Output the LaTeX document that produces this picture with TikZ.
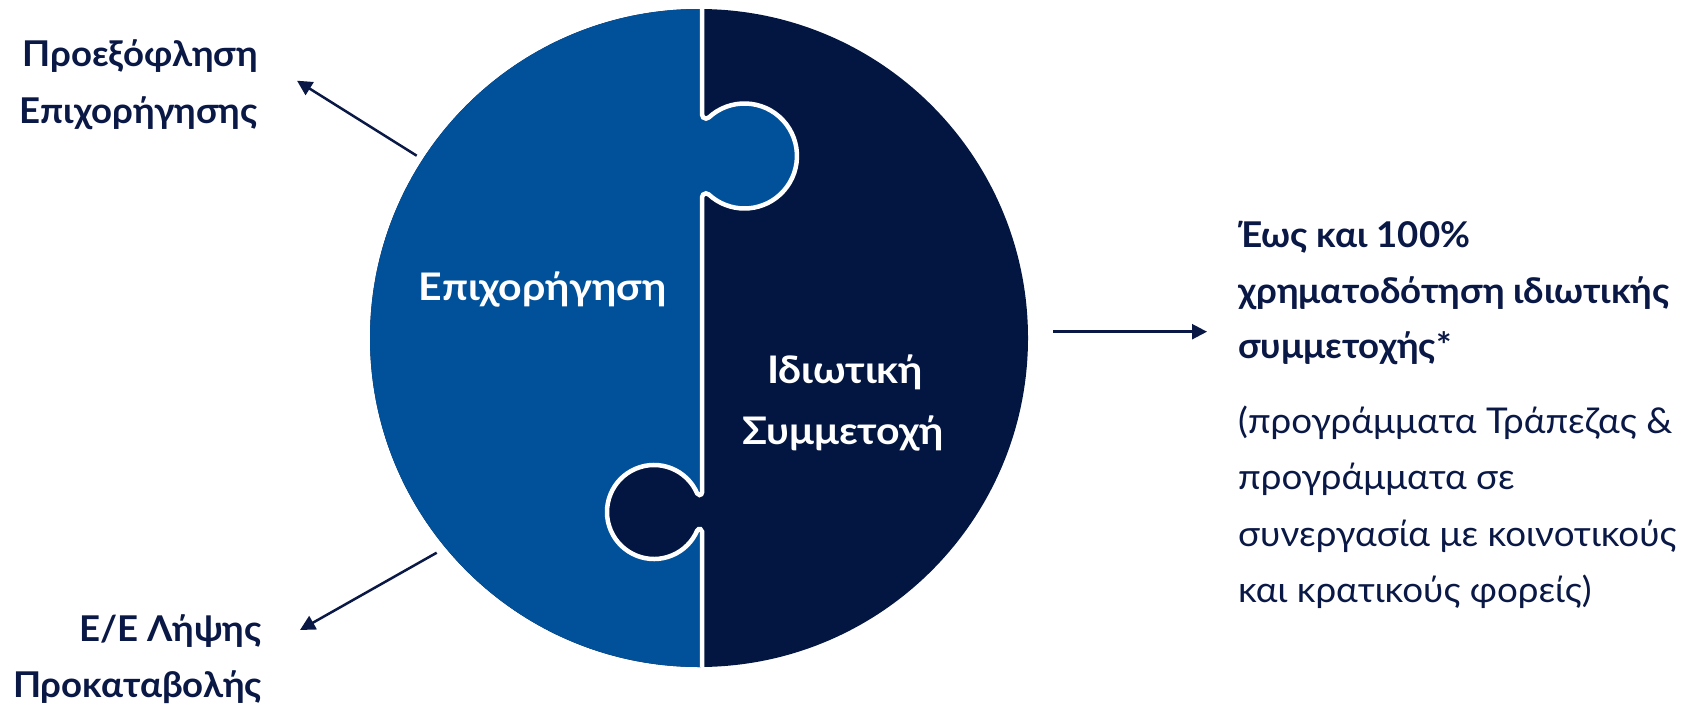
\documentclass[tikz,border=0pt]{standalone}
\usepackage{fontspec}
\setmainfont{Lato}
\newfontfamily\lblbold[FakeStretch=1.03]{Lato}
\newfontfamily\lblreg[FakeStretch=1.035]{Lato}
\newfontfamily\lblin[FakeStretch=1.08]{Lato}
\usetikzlibrary{arrows.meta}
\definecolor{pieceA}{HTML}{00509A}
\definecolor{pieceB}{HTML}{031641}
\definecolor{navy}{HTML}{0A1846}
\begin{document}
\begin{tikzpicture}[x=1pt,y=-1pt,
  boldlbl/.style={inner sep=0pt, text=navy, font=\lblbold\bfseries\fontsize{35.5}{40}\selectfont},
  reglbl/.style={inner sep=0pt, text=navy, font=\lblreg\fontsize{35.5}{40}\selectfont},
  inlbl/.style={inner sep=0pt, text=white, font=\lblin\bfseries\fontsize{38}{40}\selectfont},
  conn/.style={navy, line width=2.5pt, -{Triangle[length=15pt,width=15pt]}}]
\useasboundingbox (0,0) rectangle (1685,704);
\coordinate (C) at (699,338);
\def\divpath{(702,-5) -- (702,114.6)
  arc[start angle=180,end angle=47.1,radius=4]
  arc[start angle=227.1,end angle=492.9,radius=52.5]
  arc[start angle=312.9,end angle=180,radius=4]
  -- (702,492.5)
  arc[start angle=0,end angle=156.8,radius=2.5]
  arc[start angle=336.8,end angle=23.2,radius=47]
  arc[start angle=203.2,end angle=360,radius=2.5]
  -- (702,710)}
\fill[pieceB] (C) circle[radius=329];
\begin{scope}
  \clip (C) circle[radius=329];
  \fill[pieceA] \divpath -- (360,710) -- (360,-5) -- cycle;
  \draw[white, line width=4.5pt] \divpath;
\end{scope}
% centre labels
\node[inlbl, anchor=base] (grant) at (542.5,300) {Επιχορήγηση};
\node[inlbl, anchor=base] (privA) at (845,383) {Ιδιωτική};
\node[inlbl, anchor=base] (privB) at (843,444) {Συμμετοχή};
% left labels
\node[boldlbl, anchor=base east] (preA) at (258,66) {Προεξόφληση};
\node[boldlbl, anchor=base east] (preB) at (258,123) {Επιχορήγησης};
\node[boldlbl, anchor=base east] (advA) at (262,641) {Ε/Ε Λήψης};
\node[boldlbl, anchor=base east] (advB) at (262,697) {Προκαταβολής};
% right labels
\node[boldlbl, anchor=base west] (finA) at (1238,247) {Έως και 100\%};
\node[boldlbl, anchor=base west] (finB) at (1238,303) {χρηματοδότηση ιδιωτικής};
\node[boldlbl, anchor=base west] (finC) at (1238,358) {συμμετοχής*};
\node[reglbl, anchor=base west] (progA) at (1238,433) {(προγράμματα Τράπεζας \&};
\node[reglbl, anchor=base west] (progB) at (1238,489) {προγράμματα σε};
\node[reglbl, anchor=base west] (progC) at (1238,546) {συνεργασία με κοινοτικούς};
\node[reglbl, anchor=base west] (progD) at (1238,602) {και κρατικούς φορείς)};
% arrows
\coordinate (upS) at (416.7,155.7);
\coordinate (upE) at (297,80.7);
\coordinate (dnS) at (436.7,552.7);
\coordinate (dnE) at (300,630);
\coordinate (rtS) at (1053,331.7);
\coordinate (rtE) at (1207,331.7);
\draw[conn] (upS) -- (upE);
\draw[conn] (dnS) -- (dnE);
\draw[conn] (rtS) -- (rtE);
\end{tikzpicture}
\end{document}
